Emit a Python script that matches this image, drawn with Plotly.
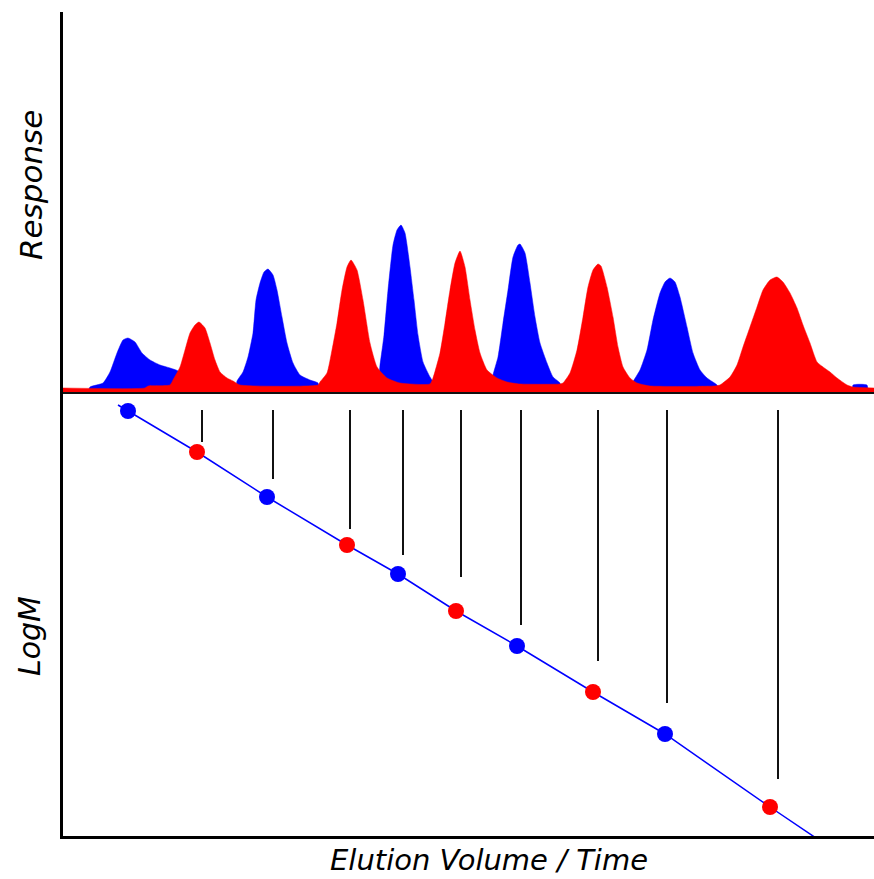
import plotly.graph_objects as go

# ---------------- data (elution units, response / logM units) ----------------
# Red chromatogram (continuous trace, incl. baseline)
red_x = [63, 145, 148, 170, 173, 180, 185, 190, 195, 199, 205, 210, 215, 220, 227, 233, 240,
         318, 320, 327, 332, 337, 342, 347, 351, 357, 363, 370, 377, 387, 400,
         430, 433, 440, 445, 450, 455, 460, 465, 470, 475, 480, 487, 497, 507, 520,
         560, 563, 570, 577, 583, 588, 593, 598, 601, 607, 613, 618, 623, 630, 637, 650,
         715, 720, 730, 737, 743, 750, 757, 763, 770, 777, 783, 790, 797, 803, 810, 817,
         823, 830, 837, 847, 853, 874]
red_y = [4, 4, 6, 7, 12, 25, 42, 59, 67, 70, 64, 49, 32, 20, 14, 11, 7,
         7, 10, 19, 42, 69, 102, 125, 132, 122, 92, 49, 25, 14, 9,
         8, 14, 39, 69, 102, 129, 141, 125, 92, 62, 39, 22, 14, 10, 8,
         8, 9, 19, 42, 75, 105, 122, 128, 126, 105, 75, 45, 25, 14, 9, 6,
         6, 7, 15, 27, 45, 65, 85, 102, 112, 115, 110, 99, 84, 67, 49, 30,
         25, 20, 14, 7, 5, 4]

# Blue chromatogram (peaks separated by zero response)
blue_x = [88, 90, 103, 110, 117, 123, 128, 135, 142, 150, 160, 170, 178, 182, 185,
          235, 237, 243, 248, 253, 256, 260, 264, 268, 273, 277, 282, 287, 293, 300, 310, 318, 320,
          376, 380, 384, 388, 393, 397, 401, 405, 410, 414, 418, 423, 430, 434, 436,
          491, 493, 498, 503, 508, 513, 518, 520, 525, 530, 535, 540, 547, 553, 560, 562,
          631, 633, 640, 647, 653, 660, 665, 670, 675, 680, 687, 693, 700, 707, 717, 720,
          852, 853, 867, 868]
blue_y = [0, 5, 9, 20, 39, 52, 54, 50, 39, 32, 27, 24, 21, 12, 0,
          0, 11, 20, 35, 59, 92, 109, 120, 123, 117, 102, 75, 49, 29, 17, 12, 9, 0,
          0, 27, 57, 102, 147, 162, 167, 159, 125, 92, 57, 30, 15, 9, 0,
          0, 17, 35, 69, 102, 135, 147, 148, 139, 109, 75, 49, 29, 15, 9, 0,
          0, 10, 22, 42, 72, 99, 110, 114, 110, 95, 65, 39, 22, 14, 7, 0,
          0, 7, 7, 0]

# Calibration points (logM vs elution)
cal_blue_x = [128, 267, 398, 517, 665]
cal_blue_y = [425, 339, 262, 190, 102]
cal_red_x = [197, 347, 456, 593, 770]
cal_red_y = [384, 291, 225, 144, 29]

# Calibration line
line_x = [118, 128, 197, 267, 347, 398, 456, 517, 593, 665, 770, 816]
line_y = [431, 425, 384, 339, 291, 262, 225, 190, 144, 102, 29, -2]

# Drop lines from peak apex positions
drop_x = [202, 273, 350, 403, 461, 521, 598, 667, 778]
drop_top = [426, 426, 426, 426, 426, 426, 426, 426, 426]
drop_bottom = [394, 357, 307, 281, 259, 211, 175, 133, 57]

X_RANGE = [63, 874]
RESP_RANGE = [0, 380]
LOGM_RANGE = [0, 444]
SPLIT = 444 / 824

BLUE = "#0000ff"
RED = "#ff0000"
FONT = "DejaVu Sans"

fig = go.Figure()

fig.add_trace(go.Scatter(x=blue_x, y=blue_y, mode="lines", fill="tozeroy",
                         fillcolor=BLUE, line=dict(color=BLUE, width=0.5, shape="spline", smoothing=0.5),
                         xaxis="x", yaxis="y", hoverinfo="skip"))
fig.add_trace(go.Scatter(x=red_x, y=red_y, mode="lines", fill="tozeroy",
                         fillcolor=RED, line=dict(color=RED, width=0.5, shape="spline", smoothing=0.5),
                         xaxis="x", yaxis="y", hoverinfo="skip"))

# drop lines
dx, dy = [], []
for xv, t, b in zip(drop_x, drop_top, drop_bottom):
    dx += [xv, xv, None]
    dy += [t, b, None]
fig.add_trace(go.Scatter(x=dx, y=dy, mode="lines", line=dict(color="#111111", width=2),
                         xaxis="x2", yaxis="y2", hoverinfo="skip"))

fig.add_trace(go.Scatter(x=line_x, y=line_y, mode="lines", line=dict(color=BLUE, width=1.5),
                         xaxis="x2", yaxis="y2", hoverinfo="skip"))
fig.add_trace(go.Scatter(x=cal_red_x, y=cal_red_y, mode="markers",
                         marker=dict(color=RED, size=16, line=dict(width=0)),
                         xaxis="x2", yaxis="y2", hoverinfo="skip"))
fig.add_trace(go.Scatter(x=cal_blue_x, y=cal_blue_y, mode="markers",
                         marker=dict(color=BLUE, size=16, line=dict(width=0)),
                         xaxis="x2", yaxis="y2", hoverinfo="skip"))

axis_common = dict(showgrid=False, zeroline=False, showticklabels=False, ticks="")

fig.update_layout(
    width=874, height=879,
    margin=dict(l=63, r=0, t=12, b=43),
    paper_bgcolor="white", plot_bgcolor="white",
    showlegend=False,
    xaxis=dict(domain=[0, 1], anchor="y", range=X_RANGE, showline=True,
               linecolor="#111111", linewidth=2, **axis_common),
    yaxis=dict(domain=[SPLIT, 1], anchor="x", range=RESP_RANGE, showline=True,
               linecolor="#000000", linewidth=3, **axis_common),
    xaxis2=dict(domain=[0, 1], anchor="y2", range=X_RANGE, showline=True,
                linecolor="#000000", linewidth=3, **axis_common),
    yaxis2=dict(domain=[0, SPLIT], anchor="x2", range=LOGM_RANGE, showline=True,
                linecolor="#000000", linewidth=3, **axis_common),
    annotations=[
        dict(text="<i>Elution Volume / Time</i>", xref="paper", yref="paper",
             x=(488.5 - 63) / 811, y=(836 - 860) / 824, xanchor="center", yanchor="middle",
             showarrow=False, font=dict(family=FONT, size=29, color="black")),
        dict(text="<i>Response</i>", xref="paper", yref="paper",
             x=(31 - 63) / 811, y=(836 - 185) / 824, xanchor="center", yanchor="middle",
             textangle=-90, showarrow=False, font=dict(family=FONT, size=31, color="black")),
        dict(text="<i>LogM</i>", xref="paper", yref="paper",
             x=(29 - 63) / 811, y=(836 - 636) / 824, xanchor="center", yanchor="middle",
             textangle=-90, showarrow=False, font=dict(family=FONT, size=30, color="black")),
    ],
)

fig.write_html("out.html")
